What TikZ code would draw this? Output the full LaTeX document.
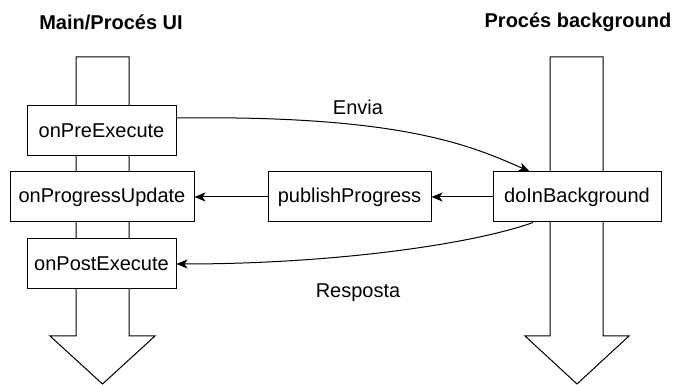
\documentclass[tikz,border=0pt]{standalone}
\usepackage{fontspec}
\setmainfont{Liberation Sans}
\usetikzlibrary{arrows.meta,calc}
\begin{document}
\begin{tikzpicture}[x=1pt,y=1pt,line width=1pt,
  font=\fontsize{20}{24}\selectfont,
  box/.style={draw,fill=white,inner sep=0pt,minimum height=50pt},
  flow/.style={draw,line join=miter},
  link/.style={-{Stealth[length=11pt,width=9pt,inset=3pt]}},
  title/.style={font=\fontsize{20}{24}\selectfont\bfseries}]
\useasboundingbox (0,0) rectangle (673,385);

% the two thread arrows
\draw[flow] (76,328) -- (129,328) -- (129,49) -- (155,49) -- (102.5,1)
  -- (50,49) -- (76,49) -- cycle;
\draw[flow] (550,328) -- (603,328) -- (603,49) -- (629,49) -- (577,1)
  -- (525,49) -- (550,49) -- cycle;

\node[title] (tui) at (111,363) {Main/Procés UI};
\node[title] (tbg) at (578,363) {Procés background};

% callbacks
\node[box,minimum width=149pt] (pre)  at (101.5,254) {onPreExecute};
\node[box,minimum width=184pt] (prog) at (102,188)   {onProgressUpdate};
\node[box,minimum width=149pt] (post) at (101.5,121) {onPostExecute};
\node[box,minimum width=163pt] (pub)  at (349.5,188) {publishProgress};
\node[box,minimum width=168pt] (dib)  at (577,188)   {doInBackground};

\draw[link] (dib.west) -- (pub.east);
\draw[link] (pub.west) -- (prog.east);

\coordinate (s1) at ($(pre.east)+(0,13)$);
\coordinate (e1) at ($(dib.north west)!0.22!(dib.north east)$);
\draw[link] (s1) .. controls (400,270) and (470,240) .. (e1);
\node (envia) at (358,278) {Envia};

\coordinate (s2) at ($(dib.south west)!0.24!(dib.south east)$);
\draw[link] (s2) .. controls (470,140) and (330,121) .. (post.east);
\node (resp) at (358,92) {Resposta};
\end{tikzpicture}
\end{document}
